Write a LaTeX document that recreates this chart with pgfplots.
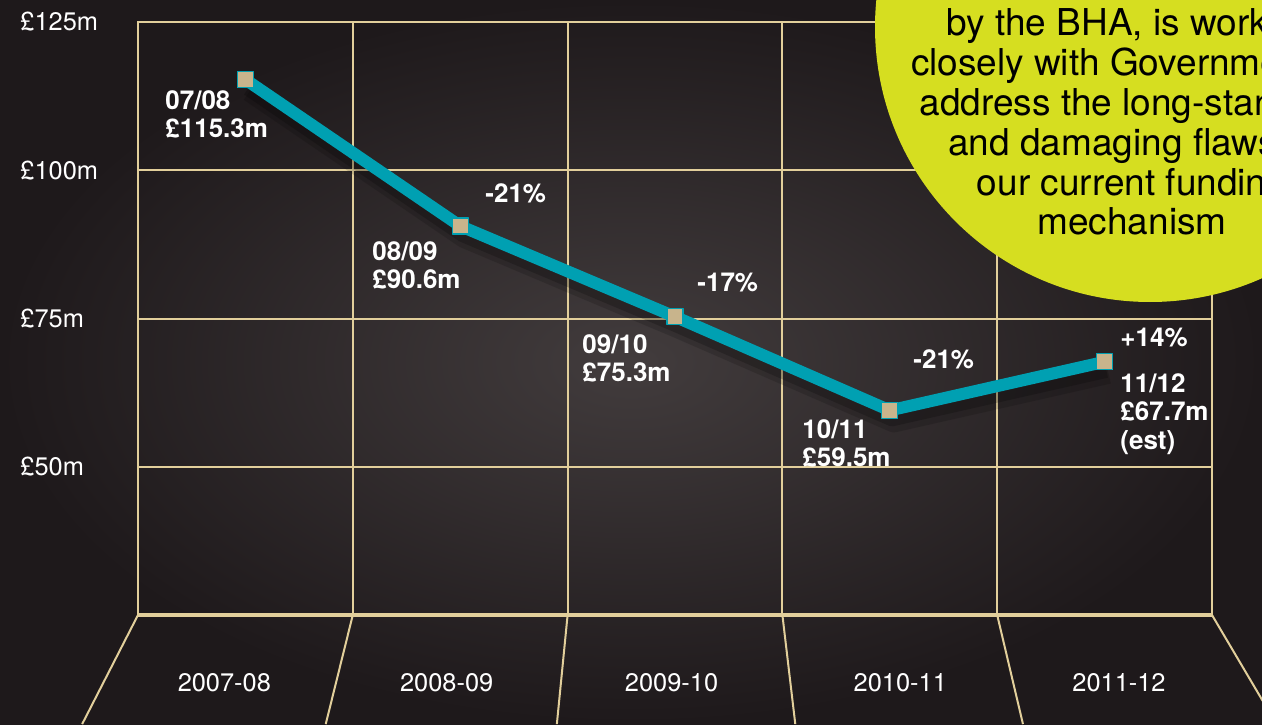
\documentclass[border=0pt]{standalone}
\usepackage{pgfplots}
\pgfplotsset{compat=1.18}
\usepackage{fontspec}
\setmainfont{TeX Gyre Heros}

\definecolor{gridc}{RGB}{226,207,155}
\definecolor{teal1}{RGB}{0,160,178}
\definecolor{markfill}{RGB}{200,180,140}
\definecolor{bubble}{RGB}{214,222,32}
\definecolor{bgin}{RGB}{66,60,61}
\definecolor{bgout}{RGB}{30,25,27}

\begin{document}
\begin{tikzpicture}
% page = 1262 x 724 px at 0.5pt per px, axis box starts at (138,615)
\useasboundingbox (-69pt,-54.5pt) rectangle (562pt,307.5pt);
\clip (-69pt,-54.5pt) rectangle (562pt,307.5pt);
\shade[inner color=bgin, outer color=bgout] (-69pt,-54.5pt) rectangle (562pt,307.5pt);

\begin{axis}[
    scale only axis,
    width=537pt, height=296.5pt,
    xmin=-0.5, xmax=4.5,
    ymin=25, ymax=125,
    clip=false,
    axis line style={draw=gridc, line width=1pt},
    % labels sit on the perspective floor, so slightly spread out
    xtick={-0.098,0.937,1.984,3.049,4.067},
    xticklabels={2007-08,2008-09,2009-10,2010-11,2011-12},
    minor xtick={0.5,1.5,2.5,3.5},
    xminorgrids=true,
    ytick={50,75,100,125},
    yticklabels={£50m,£75m,£100m,£125m},
    ymajorgrids=true,
    grid style={draw=gridc, line width=1pt},
    minor grid style={draw=gridc, line width=1pt},
    major tick length=0pt, minor tick length=0pt,
    tick style={draw=none},
    ticklabel style={text=white},
    xticklabel style={anchor=center, yshift=-34pt, font=\fontsize{12.7}{14}\selectfont},
    yticklabel style={anchor=west, inner sep=0pt, xshift=-59pt, font=\fontsize{12.7}{14}\selectfont},
]
  % floor in perspective below the grid
  \draw[gridc, line width=1.6pt] (axis cs:-0.5,25) -- (axis cs:4.5,25);
  \draw[gridc, line width=1pt] (axis cs:-0.5,25) -- (axis cs:-0.76,6.6);
  \draw[gridc, line width=1pt] (axis cs:0.5,25) -- (axis cs:0.374,6.6);
  \draw[gridc, line width=1pt] (axis cs:1.5,25) -- (axis cs:1.45,6.6);
  \draw[gridc, line width=1pt] (axis cs:2.5,25) -- (axis cs:2.56,6.6);
  \draw[gridc, line width=1pt] (axis cs:3.5,25) -- (axis cs:3.62,6.6);
  \draw[gridc, line width=1pt] (axis cs:4.5,25) -- (axis cs:4.8,6.6);

  % soft shadow of the line
  \addplot[draw=black, opacity=0.15, line width=10pt, line join=round, xshift=2pt, yshift=-6pt, mark=none]
    coordinates {(0,115.3) (1,90.6) (2,75.3) (3,59.5) (4,67.7)};
  \addplot[draw=black, opacity=0.2, line width=6pt, line join=round, xshift=1pt, yshift=-5pt, mark=none]
    coordinates {(0,115.3) (1,90.6) (2,75.3) (3,59.5) (4,67.7)};

  \addplot[draw=teal1, line width=6pt, line join=round,
           mark=square*, mark size=4pt,
           mark options={fill=markfill, draw=teal1, line width=0.6pt}]
    coordinates {(0,115.3) (1,90.6) (2,75.3) (3,59.5) (4,67.7)};
\end{axis}

% value labels
\begin{scope}[every node/.style={text=white, inner sep=0pt, align=left,
      font=\fontsize{13}{14.2}\selectfont\bfseries}]
  \node[anchor=north west] at (13.5pt,262.5pt) {07/08\\£115.3m};
  \node[anchor=north west] at (117pt,187pt) {08/09\\£90.6m};
  \node[anchor=west] at (173.5pt,211pt) {-21\%};
  \node[anchor=north west] at (222pt,140.5pt) {09/10\\£75.3m};
  \node[anchor=west] at (279.5pt,166pt) {-17\%};
  \node[anchor=north west] at (332pt,98pt) {10/11\\£59.5m};
  \node[anchor=west] at (387.5pt,128pt) {-21\%};
  \node[anchor=west] at (491pt,138.5pt) {+14\%};
  \node[anchor=north west] at (491pt,121pt) {11/12\\£67.7m\\(est)};
\end{scope}

% call-out bubble
\fill[bubble] (506pt,294pt) circle (137.5pt);
\begin{scope}[every node/.style={text=black, inner sep=0pt, anchor=base,
      font=\fontsize{18.5}{20}\selectfont}]
  \node at (497pt,289.5pt) {by the BHA, is working};
  \node at (497pt,269.6pt) {closely with Government to};
  \node at (497pt,249.7pt) {address the long-standing};
  \node at (497pt,229.8pt) {and damaging flaws in};
  \node at (497pt,209.9pt) {our current funding};
  \node at (497pt,190pt) {mechanism};
\end{scope}
\end{tikzpicture}
\end{document}
